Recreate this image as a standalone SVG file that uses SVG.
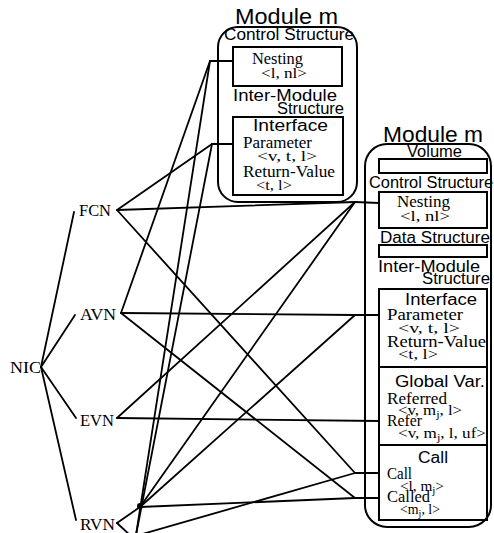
<svg xmlns="http://www.w3.org/2000/svg" width="494" height="533" viewBox="0 0 494 533">
<style>
.bg{fill:#fff}
.box{fill:none;stroke:#000;stroke-width:2}
.mod{fill:none;stroke:#000;stroke-width:2}
.ln{fill:none;stroke:#000;stroke-width:1.8;stroke-linecap:round}
.ss{font-family:"Liberation Sans",Arial,sans-serif;fill:#000}
.sf{font-family:"Liberation Serif","Times New Roman",serif;fill:#000}
.t{font-size:22px}
.h{font-size:16px}
.s{font-size:16px}
.r{font-size:16px}
.u{font-size:14px}
.n{font-size:17px}
</style>
<rect class="bg" x="0" y="0" width="494" height="533"/>

<g id="moduleLeft">
  <text class="ss t" x="235" y="24" textLength="103" lengthAdjust="spacingAndGlyphs">Module m</text>
  <rect class="mod" x="218" y="27" width="139" height="175" rx="20" ry="20"/>
  <text class="ss h" x="224" y="40" textLength="130" lengthAdjust="spacingAndGlyphs">Control Structure</text>
  <rect class="box" x="233" y="47" width="109" height="39"/>
  <text class="sf s" x="252" y="64" textLength="51" lengthAdjust="spacingAndGlyphs">Nesting</text>
  <text class="sf u" x="261" y="78" textLength="46" lengthAdjust="spacingAndGlyphs">&lt;l, nl&gt;</text>
  <text class="ss h" x="233" y="101" textLength="104" lengthAdjust="spacingAndGlyphs">Inter-Module</text>
  <text class="ss h" x="277" y="114" textLength="67" lengthAdjust="spacingAndGlyphs">Structure</text>
  <rect class="box" x="233" y="117" width="110" height="78"/>
  <text class="ss h" x="253" y="131" textLength="75" lengthAdjust="spacingAndGlyphs">Interface</text>
  <text class="sf s" x="243" y="148" textLength="69" lengthAdjust="spacingAndGlyphs">Parameter</text>
  <text class="sf u" x="257" y="161" textLength="60" lengthAdjust="spacingAndGlyphs">&lt;v, t, l&gt;</text>
  <text class="sf s" x="243" y="177" textLength="92" lengthAdjust="spacingAndGlyphs">Return-Value</text>
  <text class="sf u" x="256" y="190" textLength="36" lengthAdjust="spacingAndGlyphs">&lt;t, l&gt;</text>
</g>

<g id="moduleRight">
  <text class="ss t" x="383" y="142" textLength="100" lengthAdjust="spacingAndGlyphs">Module m</text>
  <rect class="mod" x="365" y="144" width="126" height="383" rx="22" ry="22"/>
  <text class="ss h" x="407" y="157" textLength="55" lengthAdjust="spacingAndGlyphs">Volume</text>
  <rect class="box" x="379" y="159" width="108" height="14"/>
  <text class="ss h" x="369" y="188" textLength="124" lengthAdjust="spacingAndGlyphs">Control Structure</text>
  <rect class="box" x="379" y="192" width="108" height="36"/>
  <text class="sf r" x="397" y="207" textLength="53" lengthAdjust="spacingAndGlyphs">Nesting</text>
  <text class="sf u" x="400" y="221" textLength="50" lengthAdjust="spacingAndGlyphs">&lt;l, nl&gt;</text>
  <text class="ss h" x="380" y="243" textLength="110" lengthAdjust="spacingAndGlyphs">Data Structure</text>
  <rect class="box" x="379" y="245" width="108" height="12"/>
  <text class="ss h" x="378" y="272" textLength="102" lengthAdjust="spacingAndGlyphs">Inter-Module</text>
  <text class="ss h" x="422" y="284" textLength="68" lengthAdjust="spacingAndGlyphs">Structure</text>
  <rect class="box" x="379" y="289" width="108" height="78"/>
  <text class="ss h" x="405" y="305" textLength="72" lengthAdjust="spacingAndGlyphs">Interface</text>
  <text class="sf r" x="387" y="320" textLength="76" lengthAdjust="spacingAndGlyphs">Parameter</text>
  <text class="sf u" x="398" y="333" textLength="62" lengthAdjust="spacingAndGlyphs">&lt;v, t, l&gt;</text>
  <text class="sf r" x="387" y="347" textLength="99" lengthAdjust="spacingAndGlyphs">Return-Value</text>
  <text class="sf u" x="398" y="359" textLength="40" lengthAdjust="spacingAndGlyphs">&lt;t, l&gt;</text>
  <rect class="box" x="379" y="367" width="108" height="78"/>
  <text class="ss h" x="395" y="387" textLength="90" lengthAdjust="spacingAndGlyphs">Global Var.</text>
  <text class="sf r" x="387" y="404" textLength="60" lengthAdjust="spacingAndGlyphs">Referred</text>
  <text class="sf u" x="398" y="415" textLength="64" lengthAdjust="spacingAndGlyphs">&lt;v, m<tspan dy="3" font-size="10">j</tspan><tspan dy="-3">, l&gt;</tspan></text>
  <text class="sf r" x="387" y="426" textLength="35" lengthAdjust="spacingAndGlyphs">Refer</text>
  <text class="sf u" x="398" y="438" textLength="88" lengthAdjust="spacingAndGlyphs">&lt;v, m<tspan dy="3" font-size="10">j</tspan><tspan dy="-3">, l, uf&gt;</tspan></text>
  <rect class="box" x="379" y="445" width="108" height="75"/>
  <text class="ss h" x="418" y="463" textLength="30" lengthAdjust="spacingAndGlyphs">Call</text>
  <text class="sf r" x="387" y="479" textLength="25" lengthAdjust="spacingAndGlyphs">Call</text>
  <text class="sf u" x="400" y="491" textLength="44" lengthAdjust="spacingAndGlyphs">&lt;l, m<tspan dy="3" font-size="10">j</tspan><tspan dy="-3">&gt;</tspan></text>
  <text class="sf r" x="387" y="502" textLength="43" lengthAdjust="spacingAndGlyphs">Called</text>
  <text class="sf u" x="400" y="514" textLength="40" lengthAdjust="spacingAndGlyphs">&lt;m<tspan dy="3" font-size="10">j</tspan><tspan dy="-3">, l&gt;</tspan></text>
</g>

<g id="NIC"><text class="sf n" x="10" y="373" textLength="31" lengthAdjust="spacingAndGlyphs">NIC</text></g>
<g id="FCN"><text class="sf n" x="79" y="216" textLength="32" lengthAdjust="spacingAndGlyphs">FCN</text></g>
<g id="AVN"><text class="sf n" x="80" y="320" textLength="36" lengthAdjust="spacingAndGlyphs">AVN</text></g>
<g id="EVN"><text class="sf n" x="80" y="426" textLength="34" lengthAdjust="spacingAndGlyphs">EVN</text></g>
<g id="RVN"><text class="sf n" x="80" y="530" textLength="35" lengthAdjust="spacingAndGlyphs">RVN</text></g>

<g id="connectors">
  <line class="ln" x1="41" y1="367" x2="74" y2="212"/>
  <line class="ln" x1="41" y1="367" x2="75" y2="315"/>
  <line class="ln" x1="41" y1="367" x2="76" y2="418"/>
  <line class="ln" x1="41" y1="367" x2="76" y2="520"/>
  <line class="ln" x1="210" y1="61" x2="233" y2="61"/>
  <line class="ln" x1="212" y1="144" x2="233" y2="144"/>
  <line class="ln" x1="355" y1="202" x2="379" y2="203"/>
  <line class="ln" x1="355" y1="315" x2="379" y2="315"/>
  <line class="ln" x1="355" y1="473" x2="379" y2="473"/>
  <line class="ln" x1="355" y1="498" x2="379" y2="498"/>
  <line class="ln" x1="117" y1="210" x2="212" y2="144"/>
  <line class="ln" x1="117" y1="210" x2="355" y2="202"/>
  <line class="ln" x1="117" y1="210" x2="355" y2="473"/>
  <line class="ln" x1="121" y1="313" x2="210" y2="61"/>
  <line class="ln" x1="121" y1="313" x2="355" y2="315"/>
  <line class="ln" x1="121" y1="313" x2="355" y2="498"/>
  <line class="ln" x1="117" y1="418" x2="355" y2="202"/>
  <line class="ln" x1="117" y1="418" x2="379" y2="421"/>
  <line class="ln" x1="117" y1="523" x2="140" y2="507"/>
  <line class="ln" x1="117" y1="523" x2="132" y2="537"/>
  <line class="ln" x1="140" y1="507" x2="355" y2="202"/>
  <line class="ln" x1="140" y1="507" x2="355" y2="315"/>
  <line class="ln" x1="140" y1="507" x2="355" y2="498"/>
  <line class="ln" x1="210" y1="61" x2="136" y2="535"/>
  <line class="ln" x1="212" y1="144" x2="136" y2="535"/>
  <line class="ln" x1="132" y1="537" x2="355" y2="473"/>
  <circle cx="140" cy="506" r="3" fill="#000"/>
</g>
</svg>
